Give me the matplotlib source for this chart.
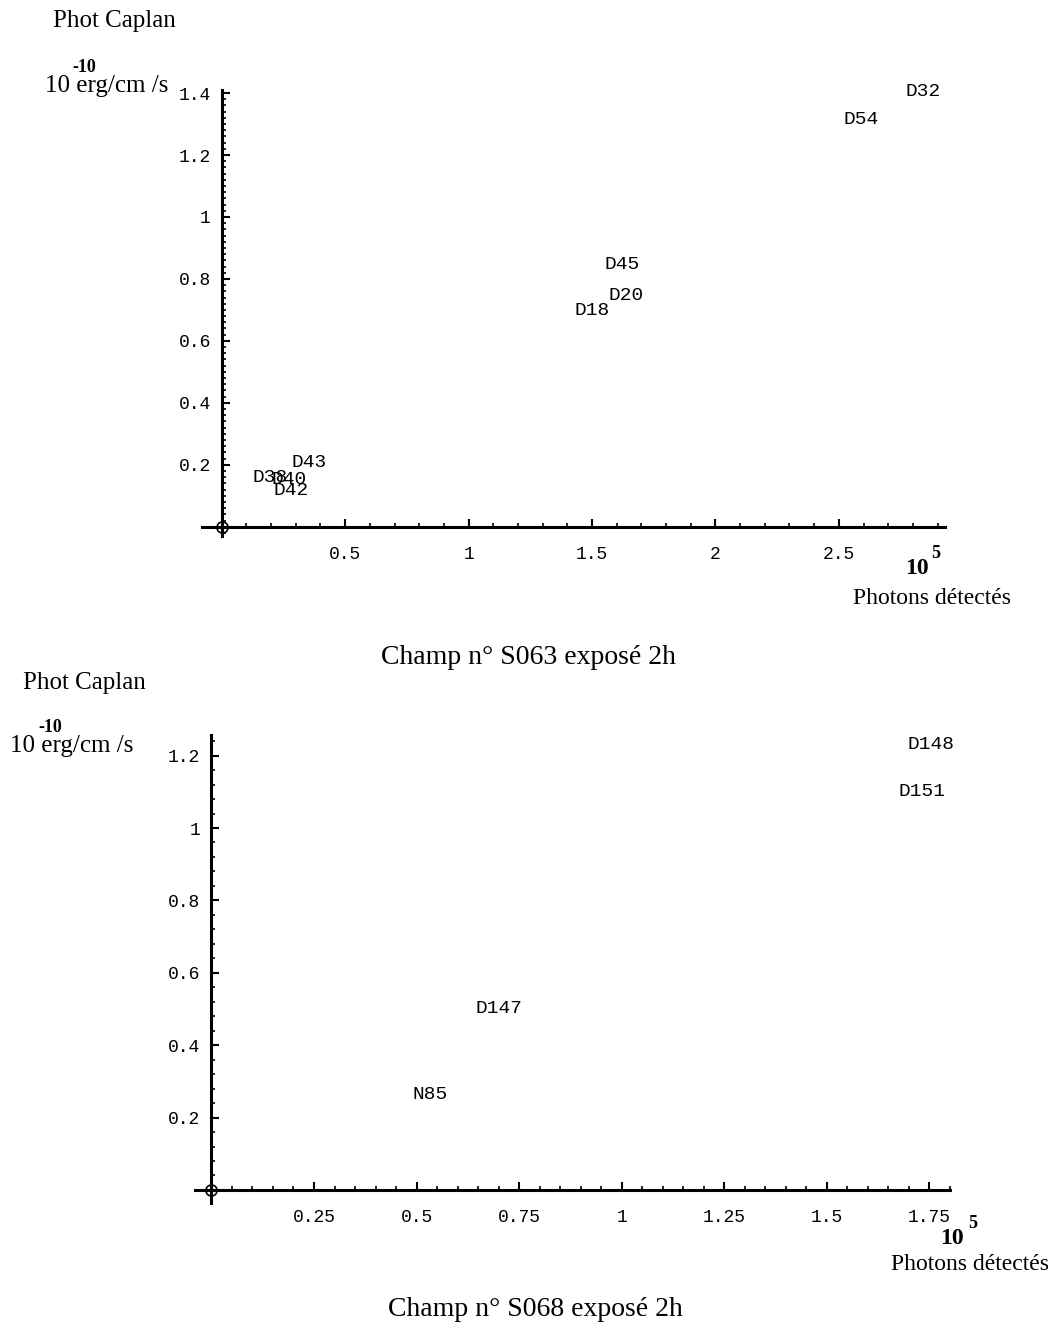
import matplotlib.pyplot as plt
from matplotlib.ticker import FixedLocator, MultipleLocator

# champ S063
noms_s063 = ["D32", "D54", "D45", "D20", "D18", "D43", "D38", "D40", "D42"]
photons_s063 = [2.84, 2.59, 1.62, 1.64, 1.50, 0.354, 0.198, 0.271, 0.283]
caplan_s063 = [1.406, 1.316, 0.845, 0.745, 0.697, 0.206, 0.158, 0.152, 0.116]
xticks_s063 = [0.5, 1, 1.5, 2, 2.5]
yticks_s063 = [0.2, 0.4, 0.6, 0.8, 1, 1.2, 1.4]

# champ S068
noms_s068 = ["D148", "D151", "D147", "N85"]
photons_s068 = [1.754, 1.732, 0.700, 0.534]
caplan_s068 = [1.232, 1.102, 0.50, 0.265]
xticks_s068 = [0.25, 0.5, 0.75, 1, 1.25, 1.5, 1.75]
yticks_s068 = [0.2, 0.4, 0.6, 0.8, 1, 1.2]

W, H = 1061, 1342
fig = plt.figure(figsize=(W / 100, H / 100), dpi=100)

SERIF = "Liberation Serif"
MONO = "Liberation Mono"


def px(x, y):
    return x / W, 1 - y / H


def texte(x, y, s, **kw):
    fx, fy = px(x, y)
    fig.text(fx, fy, s, ha=kw.pop("ha", "center"), va=kw.pop("va", "center"),
             family=kw.pop("family", SERIF), **kw)


def fmt(v):
    s = ("%g" % v)
    return s


def tracer(rect, xs, ys, noms, xlim, ylim, xt, yt, xminor, yminor):
    ax = fig.add_axes(rect)
    ax.set_xlim(*xlim)
    ax.set_ylim(*ylim)
    for cote in ["top", "right"]:
        ax.spines[cote].set_visible(False)
    for cote in ["left", "bottom"]:
        ax.spines[cote].set_position(("data", 0))
        ax.spines[cote].set_linewidth(2.2)
    ax.xaxis.set_major_locator(FixedLocator(xt))
    ax.yaxis.set_major_locator(FixedLocator(yt))
    ax.set_xticklabels([fmt(v) for v in xt], family=MONO, fontsize=13)
    ax.set_yticklabels([fmt(v) for v in yt], family=MONO, fontsize=13)
    ax.xaxis.set_minor_locator(MultipleLocator(xminor))
    ax.yaxis.set_minor_locator(MultipleLocator(yminor))
    ax.tick_params(which="major", direction="in", length=6, width=1.5, pad=14)
    ax.tick_params(which="minor", direction="in", length=3, width=1.2)
    ax.tick_params(axis="y", which="major", pad=8)
    ax.plot([0], [0], marker="o", mfc="none", mec="black", ms=8, mew=1.2,
            clip_on=False)
    for x, y, n in zip(xs, ys, noms):
        ax.text(x, y, n, ha="center", va="center", family=MONO, fontsize=14)
    return ax


tracer([202 / W, 1 - 536 / H, 743 / W, 446 / H], photons_s063, caplan_s063,
       noms_s063, (-0.08, 2.93), (-0.03, 1.41), xticks_s063, yticks_s063,
       0.1, 0.02)
tracer([195 / W, 1 - 1203 / H, 755 / W, 468 / H], photons_s068, caplan_s068,
       noms_s068, (-0.04, 1.80), (-0.036, 1.257), xticks_s068, yticks_s068,
       0.05, 0.04)

# textes du haut
texte(114, 21, "Phot Caplan", fontsize=18)
texte(84, 67, "-10", fontsize=13, fontweight="bold")
texte(45, 86, "10 erg/cm /s", fontsize=18, ha="left")
texte(917, 569, "10", fontsize=17, fontweight="bold")
texte(936, 554, "5", fontsize=13, fontweight="bold")
texte(932, 598, "Photons détectés", fontsize=17)
texte(528, 657, "Champ n° S063 exposé 2h", fontsize=20)

# textes du bas
texte(84, 683, "Phot Caplan", fontsize=18)
texte(50, 727, "-10", fontsize=13, fontweight="bold")
texte(10, 746, "10 erg/cm /s", fontsize=18, ha="left")
texte(952, 1238, "10", fontsize=17, fontweight="bold")
texte(973, 1223, "5", fontsize=13, fontweight="bold")
texte(970, 1265, "Photons détectés", fontsize=17)
texte(535, 1310, "Champ n° S068 exposé 2h", fontsize=20)

fig.savefig("out.png", dpi=100)
